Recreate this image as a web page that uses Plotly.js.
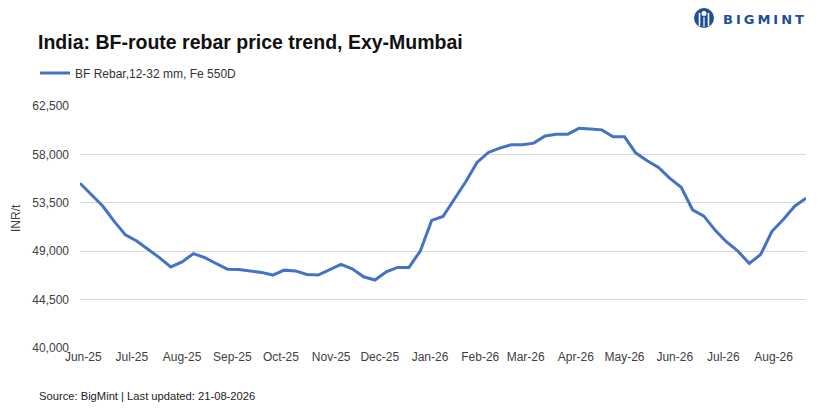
<!DOCTYPE html>
<html>
<head>
<meta charset="utf-8">
<script src="https://cdn.plot.ly/plotly-3.0.1.min.js"></script>
<style>html,body{margin:0;padding:0;background:#fff;}#chart{width:831px;height:409px;}</style>
</head>
<body>
<div id="chart"></div>
<script>
// Weekly dates (Fridays)
const dates = [
 '2025-05-30','2025-06-06','2025-06-13','2025-06-20','2025-06-27','2025-07-04','2025-07-11','2025-07-18','2025-07-25',
 '2025-08-01','2025-08-08','2025-08-15','2025-08-22','2025-08-29','2025-09-05','2025-09-12','2025-09-19','2025-09-26',
 '2025-10-03','2025-10-10','2025-10-17','2025-10-24','2025-10-31','2025-11-07','2025-11-14','2025-11-21','2025-11-28',
 '2025-12-05','2025-12-12','2025-12-19','2025-12-26','2026-01-02','2026-01-09','2026-01-16','2026-01-23','2026-01-30',
 '2026-02-06','2026-02-13','2026-02-20','2026-02-27','2026-03-06','2026-03-13','2026-03-20','2026-03-27','2026-04-03',
 '2026-04-10','2026-04-17','2026-04-24','2026-05-01','2026-05-08','2026-05-15','2026-05-22','2026-05-29','2026-06-05',
 '2026-06-12','2026-06-19','2026-06-26','2026-07-03','2026-07-10','2026-07-17','2026-07-24','2026-07-31','2026-08-07',
 '2026-08-14','2026-08-21'
];
// BF Rebar, 12-32 mm, Fe 550D (INR/t)
const rebarPrices = [
 55320,54230,53200,51800,50520,49950,49210,48400,47540,
 48000,48780,48410,47860,47330,47300,47170,47030,46780,
 47240,47170,46840,46780,47300,47770,47360,46620,46320,
 47080,47490,47490,49020,51860,52230,53850,55450,57250,
 58180,58580,58890,58890,59050,59720,59880,59880,60430,
 60370,60280,59630,59630,58120,57410,56790,55770,54940,
 52850,52260,50940,49860,49000,47860,48690,50850,51950,
 53180,53920
];
const monthTicks = ['2025-06-01','2025-07-01','2025-08-01','2025-09-01','2025-10-01','2025-11-01','2025-12-01',
 '2026-01-01','2026-02-01','2026-03-01','2026-04-01','2026-05-01','2026-06-01','2026-07-01','2026-08-01'];
const monthLabels = ['Jun-25','Jul-25','Aug-25','Sep-25','Oct-25','Nov-25','Dec-25','Jan-26','Feb-26','Mar-26',
 'Apr-26','May-26','Jun-26','Jul-26','Aug-26'];
const yTicks = [40000,44500,49000,53500,58000,62500];

const seriesName = 'BF Rebar,12-32 mm, Fe 550D';
const titleText = 'India: BF-route rebar price trend, Exy-Mumbai';
const sourceText = 'Source: BigMint | Last updated: 21-08-2026';

// pixel -> paper helpers (plot area 80..806 x, 106..348 y)
const L = 80, R = 806, T = 106, B = 348;
const px = x => (x - L) / (R - L);
const py = y => (B - y) / (B - T);

const FONT = 'Liberation Sans, Arial, sans-serif';
const logoBlue = '#1d4f96';

const trace = {
  x: dates, y: rebarPrices, type: 'scatter', mode: 'lines', name: seriesName,
  line: {color: '#4472C4', width: 3}
};

const layout = {
  width: 831, height: 409,
  margin: {l: L, r: 831 - R, t: T, b: 409 - B},
  paper_bgcolor: '#fff', plot_bgcolor: '#fff',
  font: {family: FONT, color: '#404040'},
  title: {text: '<b>' + titleText + '</b>', x: 38/831, xref: 'container', xanchor: 'left',
          y: 1 - 42/409, yref: 'container', yanchor: 'middle',
          font: {family: FONT, size: 19.5, color: '#111'}},
  showlegend: true,
  legend: {orientation: 'h', x: px(35), xanchor: 'left', y: py(73), yanchor: 'middle',
           font: {family: FONT, size: 12, color: '#333'}, itemwidth: 30, bgcolor: 'rgba(0,0,0,0)'},
  xaxis: {type: 'date', range: ['2025-05-30', '2026-08-21'], tickmode: 'array',
          tickvals: monthTicks, ticktext: monthLabels, showgrid: false, zeroline: false,
          showline: false, ticks: '', tickfont: {family: FONT, size: 12, color: '#404040'}},
  yaxis: {range: [40000, 62500], tickmode: 'array', tickvals: yTicks, tickformat: ',',
          showgrid: true, gridcolor: '#d9d9d9', gridwidth: 1, zeroline: false, showline: false,
          ticks: '', ticklabelstandoff: 10, tickfont: {family: FONT, size: 12, color: '#404040'}},
  annotations: [
    {text: 'INR/t', xref: 'paper', yref: 'paper', x: px(16), y: py(218), textangle: -90,
     showarrow: false, xanchor: 'center', yanchor: 'middle', font: {family: FONT, size: 12, color: '#404040'}},
    {text: sourceText, xref: 'paper', yref: 'paper', x: px(37), y: py(396), xanchor: 'left', yanchor: 'middle',
     showarrow: false, font: {family: FONT, size: 11.2, color: '#222'}},
    {text: '<b><span style="letter-spacing:3px">BIGMINT</span></b>', xref: 'paper', yref: 'paper',
     x: px(721), y: py(19), xanchor: 'left', yanchor: 'middle', showarrow: false,
     font: {family: 'DejaVu Sans, Arial, sans-serif', size: 13, color: logoBlue}}
  ],
  shapes: [
    {type: 'circle', xref: 'paper', yref: 'paper', x0: px(694), x1: px(714), y0: py(28), y1: py(8),
     fillcolor: logoBlue, line: {width: 0}},
    {type: 'circle', xref: 'paper', yref: 'paper', x0: px(701.5), x1: px(706.5), y0: py(16), y1: py(11),
     fillcolor: '#fff', line: {width: 0}},
    {type: 'line', xref: 'paper', yref: 'paper', x0: px(699.5), x1: px(699.5), y0: py(13), y1: py(26),
     line: {color: '#fff', width: 1.6}},
    {type: 'line', xref: 'paper', yref: 'paper', x0: px(708.5), x1: px(708.5), y0: py(13), y1: py(26),
     line: {color: '#fff', width: 1.6}},
    {type: 'line', xref: 'paper', yref: 'paper', x0: px(704), x1: px(704), y0: py(17), y1: py(27),
     line: {color: '#fff', width: 1.2}}
  ]
};

Plotly.newPlot('chart', [trace], layout, {displayModeBar: false, staticPlot: true});
</script>
</body>
</html>
